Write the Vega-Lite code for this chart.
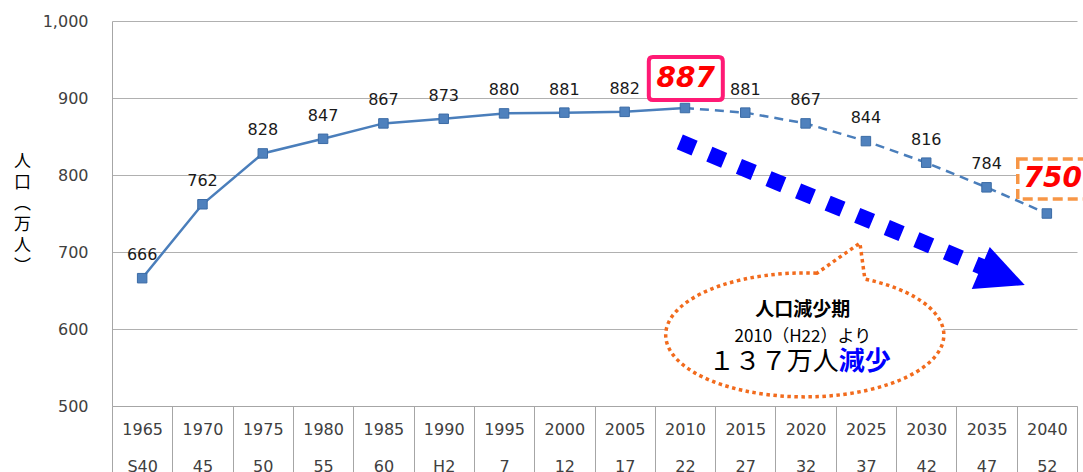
{
  "$schema": "https://vega.github.io/schema/vega-lite/v6.json",
  "width": 965,
  "height": 385,
  "autosize": {"type": "none"},
  "padding": {"left": 112, "top": 21, "right": 6, "bottom": 66},
  "background": "white",
  "config": {"view": {"stroke": null}, "font": "DejaVu Sans"},
  "datasets": {
    "pop": [
      {"label": "1965|S40", "year": 1965, "v": 666},
      {"label": "1970|45", "year": 1970, "v": 762},
      {"label": "1975|50", "year": 1975, "v": 828},
      {"label": "1980|55", "year": 1980, "v": 847},
      {"label": "1985|60", "year": 1985, "v": 867},
      {"label": "1990|H2", "year": 1990, "v": 873},
      {"label": "1995|7", "year": 1995, "v": 880},
      {"label": "2000|12", "year": 2000, "v": 881},
      {"label": "2005|17", "year": 2005, "v": 882},
      {"label": "2010|22", "year": 2010, "v": 887},
      {"label": "2015|27", "year": 2015, "v": 881},
      {"label": "2020|32", "year": 2020, "v": 867},
      {"label": "2025|37", "year": 2025, "v": 844},
      {"label": "2030|42", "year": 2030, "v": 816},
      {"label": "2035|47", "year": 2035, "v": 784},
      {"label": "2040|52", "year": 2040, "v": 750}
    ]
  },
  "resolve": {"scale": {"x": "independent"}},
  "layer": [
    {
      "encoding": {
        "x": {
          "field": "label", "type": "ordinal", "sort": null,
          "scale": {"type": "band", "paddingInner": 0, "paddingOuter": 0},
          "axis": {
            "title": null, "labelAngle": 0,
            "labelExpr": "datum.value ? split(datum.value, '|') : ''",
            "labelFont": "DejaVu Sans", "labelFontSize": 16, "labelColor": "#404040",
            "labelBaseline": "top", "labelLineHeight": 37, "labelPadding": -51,
            "tickBand": "extent", "tickSize": 66, "tickColor": "#a6a6a6", "tickWidth": 1,
            "domainColor": "#a6a6a6", "domainWidth": 1
          }
        },
        "y": {
          "field": "v", "type": "quantitative",
          "scale": {"domain": [500, 1000], "nice": false, "zero": false},
          "axis": {
            "values": [500, 550, 600, 650, 700, 750, 800, 850, 900, 950, 1000],
            "labelExpr": "format(datum.value, ',')",
            "labelFont": "DejaVu Sans", "labelFontSize": 16, "labelColor": "#404040",
            "labelPadding": 24, "ticks": false,
            "gridColor": "#b0b0b0", "gridWidth": 1,
            "domainColor": "#a6a6a6", "domainWidth": 1,
            "title": ["人", "口", "︵", "万", "人", "︶"],
            "titleAngle": 0, "titleFont": "Noto Sans CJK JP", "titleFontSize": 17,
            "titleFontWeight": "normal", "titleColor": "#000000",
            "titleAlign": "center", "titleBaseline": "top", "titleLineHeight": 21,
            "titleX": -90, "titleY": 132
          }
        }
      },
      "layer": [
        {
          "data": {"name": "pop"},
          "transform": [{"filter": "datum.year <= 2010"}],
          "mark": {"type": "line", "color": "#4a7ebb", "strokeWidth": 2.5}
        },
        {
          "data": {"name": "pop"},
          "transform": [{"filter": "datum.year >= 2010"}],
          "mark": {"type": "line", "color": "#4a7ebb", "strokeWidth": 2.5, "strokeDash": [9, 6]}
        },
        {
          "data": {"name": "pop"},
          "mark": {"type": "point", "shape": "square", "filled": true, "size": 90, "color": "#4f81bd", "stroke": "#3b6ba5", "strokeWidth": 1, "opacity": 1}
        },
        {
          "data": {"name": "pop"},
          "transform": [{"filter": "datum.year != 2010 && datum.year != 2040"}],
          "mark": {"type": "text", "font": "DejaVu Sans", "fontSize": 16, "color": "#1a1a1a", "baseline": "middle", "dy": -23},
          "encoding": {"text": {"field": "v", "type": "quantitative"}}
        }
      ]
    },
    {
      "encoding": {
        "x": {"field": "x", "type": "quantitative", "scale": {"domain": [1962.5, 2042.5], "nice": false, "zero": false}, "axis": null},
        "y": {"field": "v", "type": "quantitative"}
      },
      "layer": [
        {
          "data": {"values": [{"x": 2009.57, "v": 842.9}, {"x": 2034.86, "v": 679.2}]},
          "mark": {"type": "line", "color": "#0000ff", "strokeWidth": 16, "strokeDash": [16, 16], "strokeCap": "butt"}
        },
        {
          "data": {"values": [{"x": 2035.74, "v": 671.8}]},
          "mark": {"type": "point", "shape": "M0.977,0.377L-0.19,-0.89L-0.79,0.51Z", "size": 3600, "filled": true, "color": "#0000ff", "opacity": 1}
        },
        {
          "data": {"values": [{"x": 2019.94, "v": 592.2}]},
          "mark": {"type": "point", "shape": "M0.08,-0.412A0.927,0.413 0 1 0 0.4,-0.373L0.367,-0.613Z", "size": 90000, "filled": false, "fill": "white", "fillOpacity": 1, "stroke": "#f26b1d", "strokeWidth": 3.5, "strokeDash": [3.5, 3.5], "opacity": 1}
        },
        {
          "data": {"values": [{"x": 2019.77, "v": 624.7, "t": "人口減少期"}]},
          "mark": {"type": "text", "font": "Noto Sans CJK JP", "fontSize": 19, "fontWeight": "bold", "color": "#000000", "baseline": "middle", "align": "center"},
          "encoding": {"text": {"field": "t"}}
        },
        {
          "data": {"values": [{"x": 2019.77, "v": 589.6, "t": "2010（H22）より"}]},
          "mark": {"type": "text", "font": "Noto Sans CJK JP", "fontSize": 17, "color": "#000000", "baseline": "middle", "align": "center"},
          "encoding": {"text": {"field": "t"}}
        },
        {
          "data": {"values": [{"x": 2022.75, "v": 557.1, "t": "１３７万人"}]},
          "mark": {"type": "text", "font": "Noto Sans CJK JP", "fontSize": 26, "color": "#000000", "baseline": "middle", "align": "right"},
          "encoding": {"text": {"field": "t"}}
        },
        {
          "data": {"values": [{"x": 2022.75, "v": 557.1, "t": "減少"}]},
          "mark": {"type": "text", "font": "Noto Sans CJK JP", "fontSize": 26, "fontWeight": "bold", "color": "#0000ff", "baseline": "middle", "align": "left"},
          "encoding": {"text": {"field": "t"}}
        },
        {
          "data": {"values": [{"x": 2010.07, "v": 925.3}]},
          "mark": {"type": "point", "shape": "M-0.89,-0.581H0.89Q1,-0.581 1,-0.47V0.47Q1,0.581 0.89,0.581H-0.89Q-1,0.581 -1,0.47V-0.47Q-1,-0.581 -0.89,-0.581Z", "size": 5476, "filled": false, "fill": "white", "fillOpacity": 1, "stroke": "#ff1a75", "strokeWidth": 4, "opacity": 1}
        },
        {
          "data": {"values": [{"x": 2040.49, "v": 794.8}]},
          "mark": {"type": "point", "shape": "M-1,-0.571H1V0.571H-1Z", "size": 4900, "filled": false, "fill": "white", "fillOpacity": 1, "stroke": "#f79646", "strokeWidth": 3.5, "strokeDash": [10, 5], "opacity": 1}
        },
        {
          "data": {"values": [{"x": 2010.07, "v": 925.3, "t": "887"}, {"x": 2040.49, "v": 794.8, "t": "750"}]},
          "mark": {"type": "text", "font": "DejaVu Sans", "fontSize": 28, "fontWeight": "bold", "fontStyle": "italic", "color": "#ff0000", "baseline": "middle", "align": "center"},
          "encoding": {"text": {"field": "t"}}
        }
      ]
    }
  ]
}
